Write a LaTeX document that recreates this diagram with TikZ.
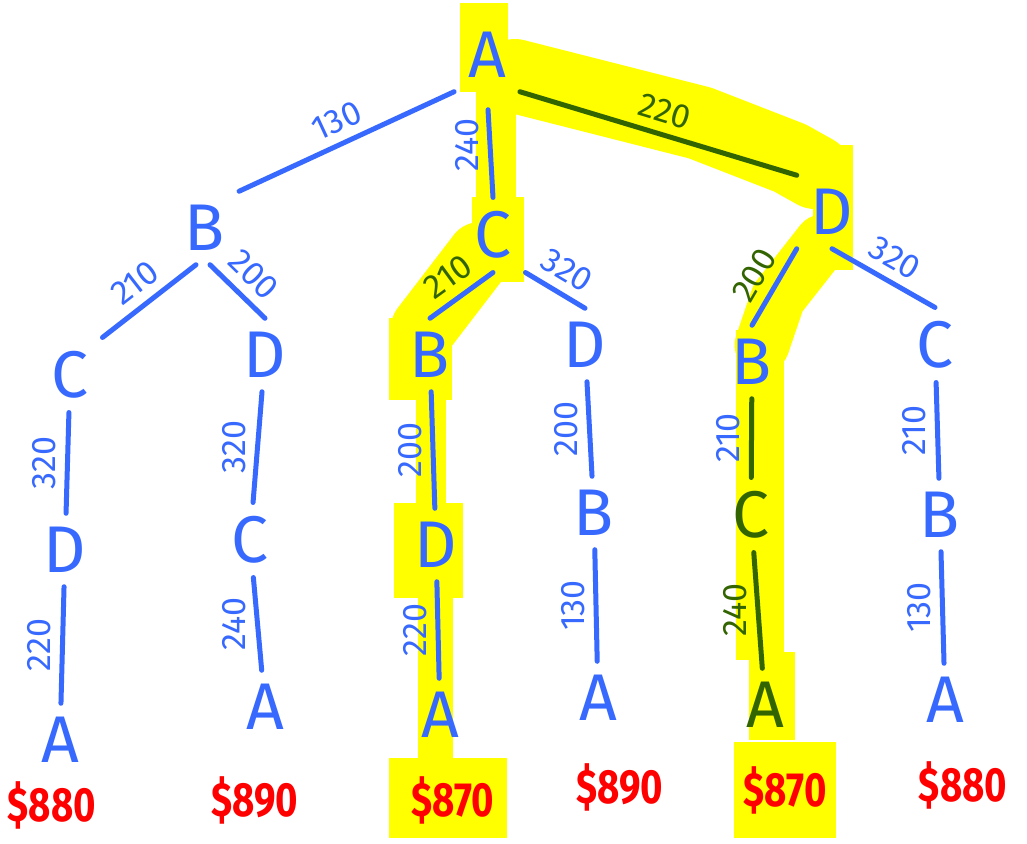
\documentclass[tikz,border=0pt]{standalone}
\usepackage{fontspec}
\setmainfont{Fira Sans}
\definecolor{penblue}{RGB}{55,105,255}
\definecolor{pengreen}{RGB}{50,100,0}
\definecolor{penred}{RGB}{255,0,0}
\definecolor{marker}{RGB}{255,255,0}
\begin{document}
\begin{tikzpicture}
  [x=1pt,y=-1pt,
   city/.style={font=\fontsize{66}{66}\selectfont,text=penblue,
                inner sep=0pt,outer sep=14pt},
   total/.style={font=\fontsize{48}{48}\selectfont\bfseries,text=penred,
                 inner sep=0pt},
   wlabel/.style={font=\fontsize{34}{34}\selectfont,text=penblue,inner sep=9pt},
   vlabel/.style={wlabel,rotate=90,anchor=south},
   branch/.style={draw=penblue,line width=5pt,line cap=round},
   marked/.style={draw=pengreen,line width=5pt,line cap=round},
   highlight/.style={draw=marker,line join=round,line cap=round}]
  \fill[white] (0,0) rectangle (1027,843);
  \useasboundingbox (0,0) rectangle (1027,843);
  \fill[marker] (460,3) rectangle (508,92);
  \fill[marker] (476,90) rectangle (516,200);
  \fill[marker] (472,197) rectangle (524,282);
  \draw[highlight,line width=66pt] (480,255) -- (424,328);
  \fill[marker] (389,318) rectangle (452,400);
  \fill[marker] (416,395) rectangle (446,505);
  \fill[marker] (394,503) rectangle (463,598);
  \fill[marker] (418,595) rectangle (453,762);
  \fill[marker] (389,758) rectangle (507,838);
  \draw[highlight,line width=74pt] (515,76) -- (700,123) -- (790,158) -- (815,172);
  \fill[marker] (813,145) rectangle (853,270);
  \draw[highlight,line width=55pt] (822,242) -- (778,298) -- (762,345);
  \fill[marker] (736,330) rectangle (784,660);
  \fill[marker] (749,652) rectangle (795,740);
  \fill[marker] (734,742) rectangle (836,838);
  \node[city] (a) at (487,55) {A};
  \node[city] (b) at (205,228) {B};
  \node[city] (c) at (493,235) {C};
  \node[city] (d) at (832,212) {D};
  \node[city] (bc) at (70,375) {C};
  \node[city] (bd) at (265,355) {D};
  \node[city] (cb) at (430,355) {B};
  \node[city] (cd) at (585,345) {D};
  \node[city] (db) at (752,362) {B};
  \node[city] (dc) at (935,345) {C};
  \node[city] (bcd) at (65,550) {D};
  \node[city] (bdc) at (250,540) {C};
  \node[city] (cbd) at (436,545) {D};
  \node[city] (cdb) at (594,513) {B};
  \node[city,text=pengreen] (dbc) at (751,515) {C};
  \node[city] (dcb) at (940,515) {B};
  \node[city] (bcda) at (60,740) {A};
  \node[city] (bdca) at (265,707) {A};
  \node[city] (cbda) at (440,715) {A};
  \node[city] (cdba) at (598,698) {A};
  \node[city,text=pengreen] (dbca) at (765,705) {A};
  \node[city] (dcba) at (945,700) {A};
  \node[total] (cost1) at (52,805) {\scalebox{0.8}[1]{\$880}};
  \node[total] (cost2) at (255,800) {\scalebox{0.8}[1]{\$890}};
  \node[total] (cost3) at (453,800) {\scalebox{0.8}[1]{\$870}};
  \node[total] (cost4) at (620,787) {\scalebox{0.8}[1]{\$890}};
  \node[total] (cost5) at (785,790) {\scalebox{0.8}[1]{\$870}};
  \node[total] (cost6) at (963,785) {\scalebox{0.8}[1]{\$880}};
  \draw[branch] (a.south west) -- node[wlabel,sloped,above]{130} (b.north east);
  \draw[branch,shorten <=18pt] (a.south) -- node[vlabel]{240} (c.north);
  \draw[marked] (a.south east) -- node[wlabel,sloped,above,text=pengreen]{220} (d.north west);
  \draw[branch] ([xshift=-9pt]b.south) -- node[wlabel,sloped,above]{210} (bc.north east);
  \draw[branch] ([xshift=5pt]b.south) -- node[wlabel,sloped,above]{200} (bd.north);
  \draw[branch] (c.south) -- node[wlabel,sloped,above,text=pengreen]{210} (cb.north);
  \draw[branch] (c.south east) -- node[wlabel,sloped,above]{320} (cd.north);
  \draw[branch] (d.south west) -- node[wlabel,sloped,above,text=pengreen]{200} (db.north);
  \draw[branch] (d.south) -- node[wlabel,sloped,above]{320} (dc.north);
  \draw[branch] (bc) -- node[vlabel]{320} (bcd);
  \draw[branch] (bd) -- node[vlabel]{320} (bdc);
  \draw[branch] (cb) -- node[vlabel]{200} (cbd);
  \draw[branch] (cd) -- node[vlabel]{200} (cdb);
  \draw[marked] (db) -- node[vlabel]{210} (dbc);
  \draw[branch] (dc) -- node[vlabel]{210} (dcb);
  \draw[branch] (bcd) -- node[vlabel]{220} (bcda);
  \draw[branch] (bdc) -- node[vlabel]{240} (bdca);
  \draw[branch] (cbd) -- node[vlabel]{220} (cbda);
  \draw[branch] (cdb) -- node[vlabel]{130} (cdba);
  \draw[marked] (dbc) -- node[vlabel,text=pengreen]{240} (dbca);
  \draw[branch] (dcb) -- node[vlabel]{130} (dcba);
\end{tikzpicture}
\end{document}
